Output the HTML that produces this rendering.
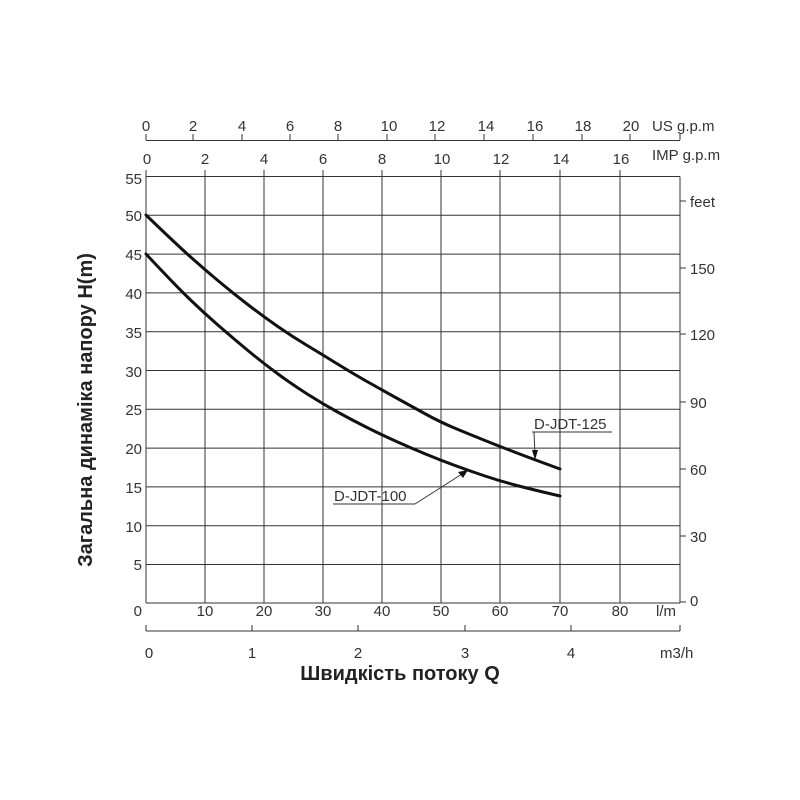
<!DOCTYPE html>
<html><head><meta charset="utf-8"><style>
html,body{margin:0;padding:0;background:#fff}
svg{display:block}
text{font-family:"Liberation Sans",sans-serif;fill:#333}
.t{font-size:15px}
</style></head><body>
<svg width="800" height="800" viewBox="0 0 800 800" xmlns="http://www.w3.org/2000/svg">
<g stroke="#333" stroke-width="1" fill="none">
<line x1="146" y1="176.5" x2="680" y2="176.5"/>
<line x1="146" y1="215.3" x2="680" y2="215.3"/>
<line x1="146" y1="254.1" x2="680" y2="254.1"/>
<line x1="146" y1="292.9" x2="680" y2="292.9"/>
<line x1="146" y1="331.7" x2="680" y2="331.7"/>
<line x1="146" y1="370.5" x2="680" y2="370.5"/>
<line x1="146" y1="409.3" x2="680" y2="409.3"/>
<line x1="146" y1="448.1" x2="680" y2="448.1"/>
<line x1="146" y1="486.9" x2="680" y2="486.9"/>
<line x1="146" y1="525.7" x2="680" y2="525.7"/>
<line x1="146" y1="564.5" x2="680" y2="564.5"/>
<line x1="146" y1="603" x2="680" y2="603"/>
<line x1="146" y1="170" x2="146" y2="603"/>
<line x1="205" y1="170" x2="205" y2="603"/>
<line x1="264" y1="170" x2="264" y2="603"/>
<line x1="323" y1="170" x2="323" y2="603"/>
<line x1="382" y1="170" x2="382" y2="603"/>
<line x1="441" y1="170" x2="441" y2="603"/>
<line x1="500" y1="170" x2="500" y2="603"/>
<line x1="560" y1="170" x2="560" y2="603"/>
<line x1="620" y1="170" x2="620" y2="603"/>
<line x1="680" y1="176.5" x2="680" y2="603"/>
<line x1="146" y1="140.5" x2="680" y2="140.5"/>
<g>
<line x1="146" y1="134" x2="146" y2="140"/><line x1="193" y1="134" x2="193" y2="140"/><line x1="242" y1="134" x2="242" y2="140"/><line x1="290" y1="134" x2="290" y2="140"/><line x1="338" y1="134" x2="338" y2="140"/><line x1="387" y1="134" x2="387" y2="140"/><line x1="435" y1="134" x2="435" y2="140"/><line x1="484" y1="134" x2="484" y2="140"/><line x1="533" y1="134" x2="533" y2="140"/><line x1="582" y1="134" x2="582" y2="140"/><line x1="630" y1="134" x2="630" y2="140"/><line x1="680" y1="134" x2="680" y2="140"/>
</g>
<line x1="680" y1="201" x2="686" y2="201"/><line x1="680" y1="268" x2="686" y2="268"/><line x1="680" y1="334" x2="686" y2="334"/><line x1="680" y1="402" x2="686" y2="402"/><line x1="680" y1="469" x2="686" y2="469"/><line x1="680" y1="536" x2="686" y2="536"/><line x1="680" y1="602" x2="686" y2="602"/>
<line x1="146" y1="631" x2="680" y2="631"/>
<line x1="146" y1="625" x2="146" y2="631"/><line x1="252" y1="625" x2="252" y2="631"/><line x1="358" y1="625" x2="358" y2="631"/><line x1="465" y1="625" x2="465" y2="631"/><line x1="571" y1="625" x2="571" y2="631"/><line x1="680" y1="625" x2="680" y2="631"/>
</g>
<g stroke="#111" stroke-width="3" fill="none" stroke-linecap="round">
<path d="M146,215 Q175,243 189.5,256 Q204,269 219,281.5 Q234,294 249,305.5 Q264,317 278.5,327 Q293,337 308,346 Q323,355 337.5,364 Q352,373 367,381.5 Q382,390 396.5,398 Q411,406 425.5,414 Q440,422 455,428.25 Q470,434.5 485,440.5 Q500,446.5 515,452.25 Q530,458 560,469"/>
<path d="M146,254 Q175,285 189.5,299 Q204,313 219,326 Q234,339 248.5,351 Q263,363 278,374 Q293,385 308,394.5 Q323,404 337.5,412 Q352,420 367,427.5 Q382,435 396.5,441.5 Q411,448 425.5,454 Q440,460 455,465.5 Q470,471 485,476 Q500,481 515,485 Q530,489 560,496"/>
</g>
<g stroke="#333" stroke-width="1" fill="none">
<line x1="532" y1="432" x2="612" y2="432"/>
<line x1="534" y1="432" x2="535" y2="455"/>
<line x1="333" y1="504" x2="415" y2="504"/>
<line x1="415" y1="504" x2="462" y2="474"/>
</g>
<polygon points="532,450 538,450 535,460" fill="#111"/>
<polygon points="458,472 468,470 463,478" fill="#111"/>
<text x="534" y="429" class="t">D-JDT-125</text>
<text x="334" y="501" class="t">D-JDT-100</text>
<g class="t" text-anchor="end">
<text x="142" y="184">55</text><text x="142" y="221">50</text><text x="142" y="260">45</text><text x="142" y="299">40</text><text x="142" y="338">35</text><text x="142" y="377">30</text><text x="142" y="415">25</text><text x="142" y="454">20</text><text x="142" y="493">15</text><text x="142" y="532">10</text><text x="142" y="570">5</text><text x="142" y="616">0</text>
</g>
<g class="t">
<text x="690" y="207">feet</text><text x="690" y="274">150</text><text x="690" y="340">120</text><text x="690" y="408">90</text><text x="690" y="475">60</text><text x="690" y="542">30</text><text x="690" y="606">0</text>
</g>
<g class="t" text-anchor="middle">
<text x="146" y="131">0</text><text x="193" y="131">2</text><text x="242" y="131">4</text><text x="290" y="131">6</text><text x="338" y="131">8</text><text x="389" y="131">10</text><text x="437" y="131">12</text><text x="486" y="131">14</text><text x="535" y="131">16</text><text x="583" y="131">18</text><text x="631" y="131">20</text>
</g>
<text x="652" y="131" class="t">US g.p.m</text>
<g class="t" text-anchor="middle">
<text x="147" y="164">0</text><text x="205" y="164">2</text><text x="264" y="164">4</text><text x="323" y="164">6</text><text x="382" y="164">8</text><text x="442" y="164">10</text><text x="501" y="164">12</text><text x="561" y="164">14</text><text x="621" y="164">16</text>
</g>
<text x="652" y="160" class="t">IMP g.p.m</text>
<g class="t" text-anchor="middle">
<text x="205" y="616">10</text><text x="264" y="616">20</text><text x="323" y="616">30</text><text x="382" y="616">40</text><text x="441" y="616">50</text><text x="500" y="616">60</text><text x="560" y="616">70</text><text x="620" y="616">80</text>
</g>
<text x="656" y="616" class="t">l/m</text>
<g class="t" text-anchor="middle">
<text x="149" y="658">0</text><text x="252" y="658">1</text><text x="358" y="658">2</text><text x="465" y="658">3</text><text x="571" y="658">4</text>
</g>
<text x="660" y="658" class="t">m3/h</text>
<text x="400" y="680" text-anchor="middle" style="font-size:20px;font-weight:bold;fill:#222">Швидкість потоку Q</text>
<text transform="translate(92,410) rotate(-90)" text-anchor="middle" style="font-size:20px;font-weight:bold;fill:#222">Загальна динаміка напору H(m)</text>
</svg>
</body></html>
